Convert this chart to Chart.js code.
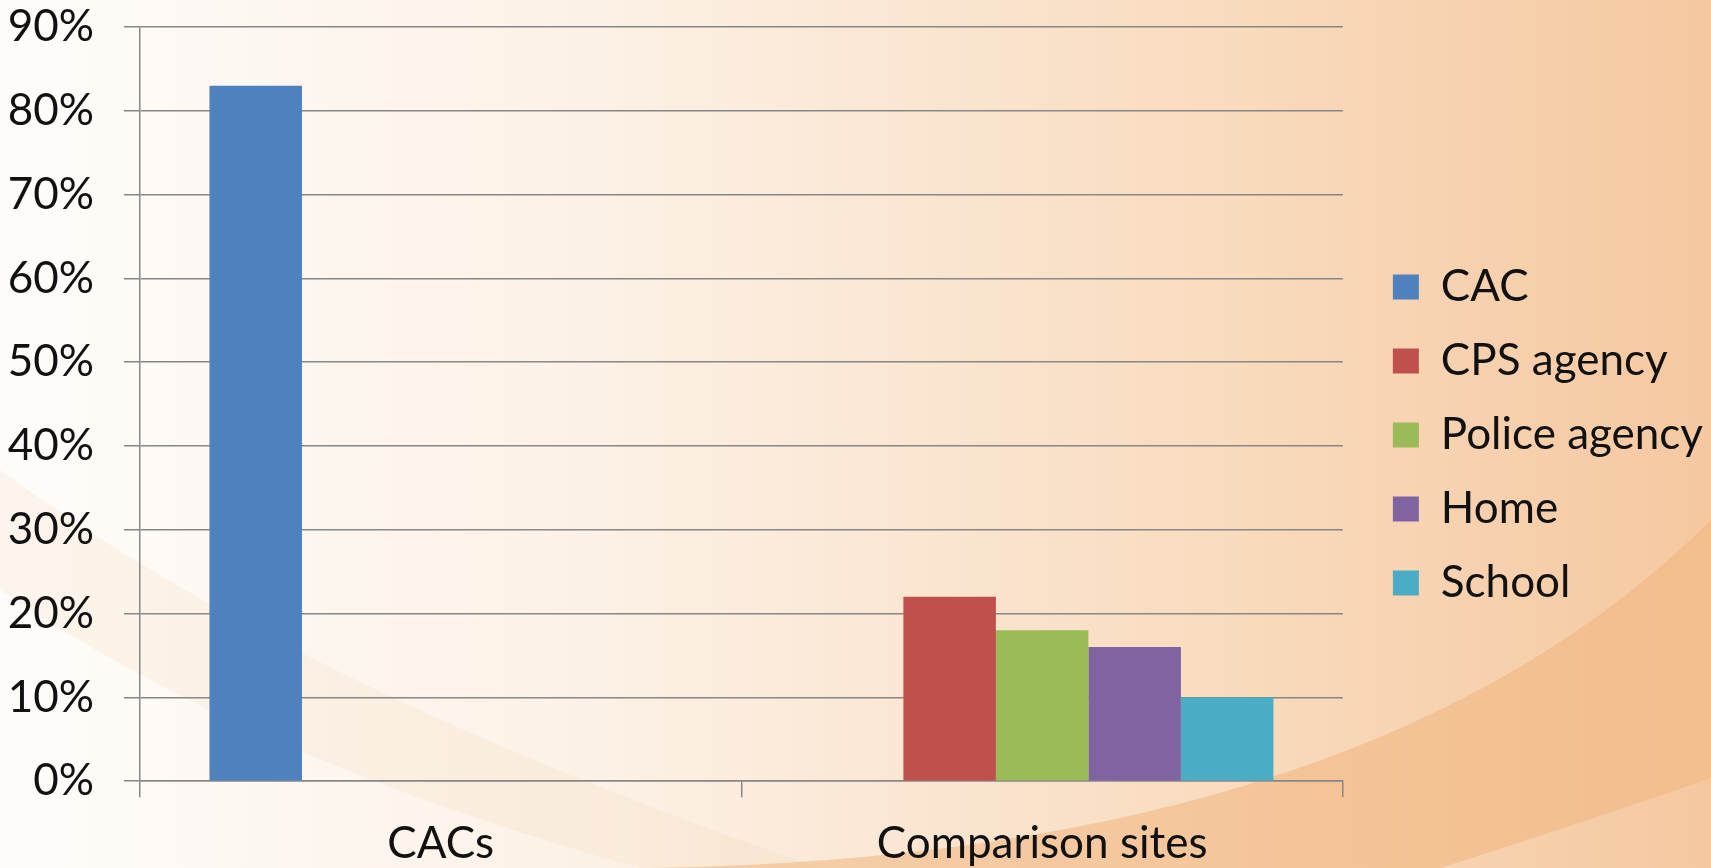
<!DOCTYPE html>
<html>
<head>
<meta charset="utf-8">
<script src="https://cdn.jsdelivr.net/npm/chart.js@4.4.1/dist/chart.umd.min.js"></script>
<style>
  html, body { margin: 0; padding: 0; background: #fdf6ef; }
  #wrap { width: 1711px; height: 868px; position: relative; }
</style>
</head>
<body>
<div id="wrap"><canvas id="chart" width="1711" height="868"></canvas></div>
<script>
// categories and series values (percent)
const categories = ["CACs", "Comparison sites"];
const seriesNames = ["CAC", "CPS agency", "Police agency", "Home", "School"];
const cacValues = [83, null];
const cpsValues = [null, 22];
const policeValues = [null, 18];
const homeValues = [null, 16];
const schoolValues = [null, 10];
const yTicks = [0, 10, 20, 30, 40, 50, 60, 70, 80, 90];

const colors = ["#4f81bd", "#c0504d", "#9bbb59", "#8064a2", "#4bacc6"];
const allValues = [cacValues, cpsValues, policeValues, homeValues, schoolValues];
const gridColor = "#878787";
const textFont = { size: 44, family: "Lato" };

// painted slide background (gradient + swooshes)
const backgroundPlugin = {
  id: "slideBackground",
  beforeDraw(chart) {
    const { ctx, width, height } = chart;
    ctx.save();
    const g = ctx.createLinearGradient(0, 0, width, 0);
    g.addColorStop(0, "#fefcfa");
    g.addColorStop(0.35, "#fcf1e6");
    g.addColorStop(0.7, "#f9dcc0");
    g.addColorStop(1, "#f5c8a0");
    ctx.fillStyle = g;
    ctx.fillRect(0, 0, width, height);

    // faint band at lower left
    ctx.beginPath();
    ctx.moveTo(0, 470);
    ctx.quadraticCurveTo(300, 690, 820, height);
    ctx.lineTo(640, height);
    ctx.quadraticCurveTo(250, 760, 0, 590);
    ctx.closePath();
    ctx.fillStyle = "rgba(246, 214, 180, 0.2)";
    ctx.fill();

    // darker orange band at lower right
    ctx.beginPath();
    ctx.moveTo(550, height);
    ctx.quadraticCurveTo(1350, 880, width, 520);
    ctx.lineTo(width, 778);
    ctx.quadraticCurveTo(1560, 830, 1440, height);
    ctx.closePath();
    ctx.fillStyle = "rgba(240, 180, 125, 0.55)";
    ctx.fill();
    ctx.restore();
  }
};

// small nudge so the legend sits like the slide's one
const legendNudge = {
  id: "legendNudge",
  afterLayout(chart) {
    const lg = chart.legend;
    lg.left += 20;
    lg.right += 20;
    lg.top -= 10;
    lg.bottom -= 10;
  }
};

const ctx = document.getElementById("chart").getContext("2d");
const chart = new Chart(ctx, {
  type: "bar",
  data: {
    labels: categories,
    datasets: seriesNames.map((name, i) => ({
      label: name,
      data: allValues[i],
      backgroundColor: colors[i],
      borderWidth: 0,
      categoryPercentage: 0.769,
      barPercentage: 1.0,
    })),
  },
  options: {
    responsive: false,
    animation: false,
    devicePixelRatio: 1,
    layout: { padding: { top: 0, left: 0, right: 18, bottom: -22 } },
    plugins: {
      tooltip: { enabled: false },
      legend: {
        position: "right",
        align: "center",
        labels: {
          color: "#111",
          font: textFont,
          boxWidth: 26,
          boxHeight: 25,
          padding: 30,
        },
      },
    },
    scales: {
      x: {
        offset: true,
        grid: {
          offset: true,
          drawOnChartArea: false,
          drawTicks: true,
          tickLength: 16,
          color: gridColor,
          lineWidth: 1.5,
        },
        border: { display: true, color: gridColor, width: 1.5 },
        ticks: {
          color: "#111",
          padding: 20,
          font: textFont,
        },
      },
      y: {
        min: 0,
        max: 90,
        afterBuildTicks(scale) {
          scale.ticks = yTicks.map((v) => ({ value: v }));
        },
        afterFit(scale) {
          scale.width = 140;
          scale.paddingTop = 27;
          scale.paddingBottom = 0;
        },
        grid: {
          color: gridColor,
          lineWidth: 1.5,
          tickLength: 16,
        },
        border: { display: true, color: gridColor, width: 1.5 },
        ticks: {
          color: "#111",
          padding: 30,
          font: textFont,
          callback: (v) => v + "%",
        },
      },
    },
  },
  plugins: [backgroundPlugin, legendNudge],
});
</script>
</body>
</html>
